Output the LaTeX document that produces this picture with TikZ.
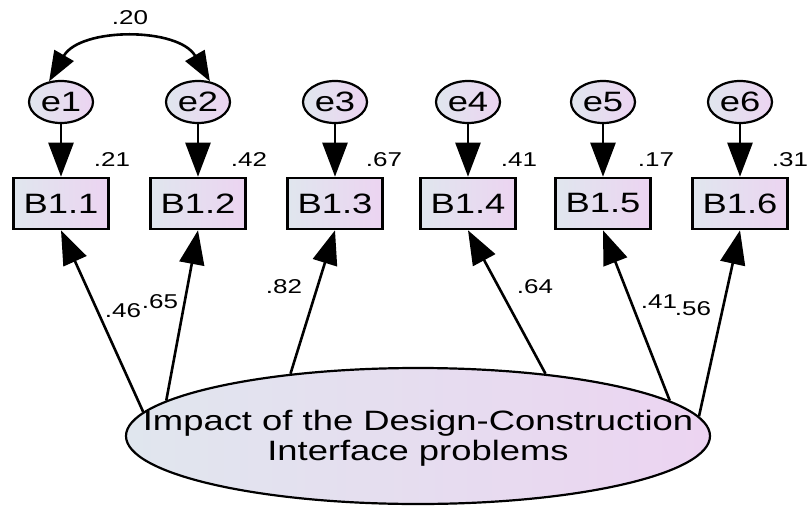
\documentclass[tikz,border=0pt]{standalone}
\usepackage{fontspec}
\setmainfont{Liberation Sans}[FakeStretch=1.3]
\usetikzlibrary{arrows.meta,shapes.geometric}
\definecolor{shL}{HTML}{E0E6EE}
\definecolor{shR}{HTML}{ECD4F1}
\begin{document}
\begin{tikzpicture}[x=1pt,y=-1pt,
  obs/.style={rectangle,draw,line width=2.6pt,minimum width=95pt,minimum height=51pt,inner sep=0pt,left color=shL,right color=shR,font=\fontsize{28}{30}\selectfont},
  err/.style={ellipse,draw,line width=2.2pt,minimum width=64pt,minimum height=42pt,inner sep=0pt,left color=shL,right color=shR,font=\fontsize{28}{30}\selectfont},
  lat/.style={ellipse,draw,line width=2.2pt,minimum width=584pt,minimum height=136pt,inner sep=0pt,left color=shL,right color=shR},
  lattext/.style={align=center,inner sep=0pt,font=\fontsize{28}{30}\selectfont},
  num/.style={inner sep=0pt,font=\fontsize{20}{22}\selectfont},
  conn/.style={line width=2.6pt,-{Triangle[length=34pt,width=25pt]}},
  cov/.style={line width=2.6pt,{Triangle[length=30pt,width=22pt]}-{Triangle[length=30pt,width=22pt]}}
]
\useasboundingbox (0,0) rectangle (809,506);
% latent
\node[lat] (L) at (418,436) {};
\node[lattext] (Lt) at (418,438) {Impact of the Design-Construction\\Interface problems};
% observed
\foreach \i/\x in {1/61,2/198,3/335,4/468,5/603,6/740}{
  \node[obs] (B\i) at (\x,203.5) {B1.\i};
  \node[err] (e\i) at (\x,102) {e\i};
}
% error arrows
\foreach \i in {1,...,6}{ \draw[conn] (e\i) -- (B\i); }
% loadings
\draw[conn] (L.175.7) -- (B1.south);
\draw[conn] (L.172) -- (B2.south);
\draw[conn] (L.154.1) -- (B3.south);
\draw[conn] (L.26.4) -- (B4.south);
\draw[conn] (L.8.1) -- (B5.south);
\draw[conn] (L.4.3) -- (B6.south);
% covariance
\draw[cov] (e1.120) to[out=60,in=120] (e2.60);
\node[num] (c12) at (130,18) {.20};
% R squared
\node[num] (r1) at (112,160) {.21};
\node[num] (r2) at (249,160) {.42};
\node[num] (r3) at (384,160) {.67};
\node[num] (r4) at (519,160) {.41};
\node[num] (r5) at (656,160) {.17};
\node[num] (r6) at (790,160) {.31};
% loadings labels
\node[num] (l1) at (123,311) {.46};
\node[num] (l2) at (160,302) {.65};
\node[num] (l3) at (284,287) {.82};
\node[num] (l4) at (535,287) {.64};
\node[num] (l5) at (659,302) {.41};
\node[num] (l6) at (693,309) {.56};
\end{tikzpicture}
\end{document}
